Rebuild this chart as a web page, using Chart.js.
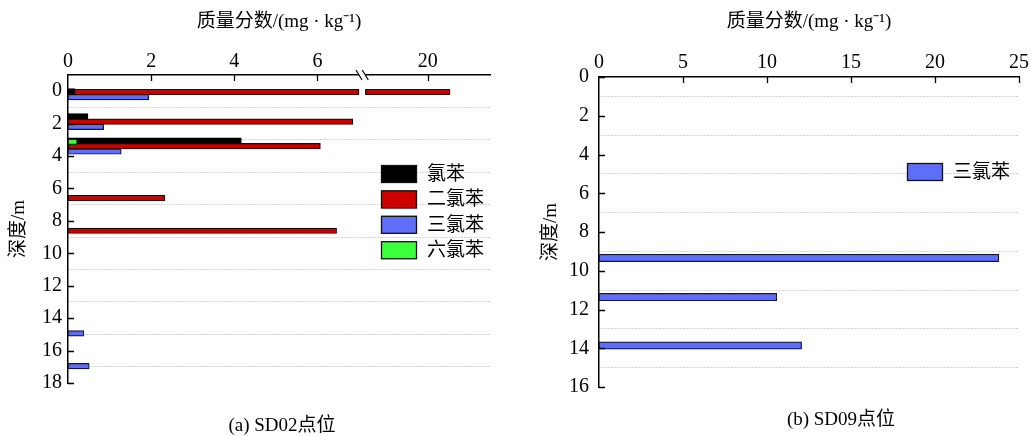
<!DOCTYPE html>
<html>
<head>
<meta charset="utf-8">
<script src="https://cdn.jsdelivr.net/npm/chart.js@4.4.1/dist/chart.umd.min.js"></script>
<style>
  html, body { margin: 0; padding: 0; background: #fff; }
  #wrap { position: relative; width: 1032px; height: 436px; }
  .pane { position: absolute; top: 0; height: 436px; }
  #paneL { left: 0; width: 520px; }
  #paneR { left: 520px; width: 512px; }
</style>
</head>
<body>
<div id="wrap">
  <div class="pane" id="paneL"><canvas id="chartL" width="520" height="436"></canvas></div>
  <div class="pane" id="paneR"><canvas id="chartR" width="512" height="436"></canvas></div>
</div>
<script>
// ── Données ──────────────────────────────────────────────────
const X_TITLE = '质量分数/(mg · kg⁻¹)';
const Y_TITLE = '深度/m';
const CAPTION_L = '(a) SD02点位';
const CAPTION_R = '(b) SD09点位';

const SERIES_NAMES = ['氯苯', '二氯苯', '三氯苯', '六氯苯'];

// SD02 : profondeur (m) et teneur (mg/kg) par composé
const SD02_CB_DEPTH   = [0.0, 1.55, 3.05];
const SD02_CB_VALUE   = [0.17, 0.48, 4.17];
const SD02_DCB_DEPTH  = [0.05, 1.88, 3.39, 6.59, 8.61];
const SD02_DCB_VALUE  = [21.8, 6.85, 6.07, 2.33, 6.46];
const SD02_TCB_DEPTH  = [0.37, 2.2, 3.72, 14.94, 16.96];
const SD02_TCB_VALUE  = [1.94, 0.86, 1.28, 0.38, 0.51];
const SD02_HCB_DEPTH  = [3.13];
const SD02_HCB_VALUE  = [0.22];

// SD09 : trichlorobenzène seulement
const SD09_TCB_DEPTH  = [9.34, 11.36, 13.86];
const SD09_TCB_VALUE  = [23.8, 10.58, 12.06];

// axes
const SD02_X_TICKS = [0, 2, 4, 6, 20];
const SD02_BREAK   = [7, 15];      // coupure de l'axe
const SD02_X_MAX   = 25;
const SD09_X_TICKS = [0, 5, 10, 15, 20, 25];

// ── Styles ───────────────────────────────────────────────────
const FONT = "'Liberation Serif', 'Times New Roman', 'Noto Sans CJK SC', serif";
const COLORS = ['#000000', '#cc0000', '#5f6ef8', '#3cff3c'];
const EDGE   = ['#000000', '#2a0505', '#141440', '#0d300d'];

// axe brisé : 0..7 à l'échelle 1, puis 15..25 compressé
const SEG2_K = 0.3, GAP = 0.15;
function toAxis(v) {
  return v <= SD02_BREAK[0] ? v : SD02_BREAK[0] + GAP + (v - SD02_BREAK[1]) * SEG2_K;
}

function barSet(i, depths, values, map, extra) {
  return Object.assign({
    label: SERIES_NAMES[i],
    data: depths.map((d, k) => ({ y: d, x: map(values[k]) })),
    backgroundColor: COLORS[i],
    borderColor: EDGE[i],
  }, extra || {});
}

// ── Plugins ──────────────────────────────────────────────────
const innerTicks = {
  id: 'innerTicks',
  afterDraw(chart) {
    const { ctx, chartArea: a, scales: { x, y } } = chart;
    ctx.save();
    ctx.strokeStyle = '#000'; ctx.lineWidth = 1.3;
    ctx.beginPath();
    x.ticks.forEach(t => {
      const px = Math.round(x.getPixelForValue(t.value)) + 0.5;
      if (px < a.left + 2) return;
      ctx.moveTo(px, a.top); ctx.lineTo(px, a.top + 6);
    });
    y.ticks.forEach(t => {
      if (t.value < 0 || t.value % 2 !== 0) return;
      const py = Math.round(y.getPixelForValue(t.value)) + 0.5;
      ctx.moveTo(a.left, py); ctx.lineTo(a.left + 6, py);
    });
    ctx.stroke();
    ctx.restore();
  }
};

const boxLegend = {
  id: 'boxLegend',
  afterDraw(chart, args, o) {
    const { ctx } = chart;
    ctx.save();
    ctx.font = `19px ${FONT}`;
    ctx.textBaseline = 'middle';
    chart.data.datasets.forEach((ds, i) => {
      const top = o.y + i * o.row;
      ctx.fillStyle = ds.backgroundColor;
      ctx.fillRect(o.x, top, o.w, o.h);
      ctx.strokeStyle = '#111'; ctx.lineWidth = 1.3;
      ctx.strokeRect(o.x + 0.5, top + 0.5, o.w - 1, o.h - 1);
      ctx.fillStyle = '#000';
      ctx.fillText(ds.label, o.x + o.w + 10, top + o.h / 2 + 1);
    });
    ctx.restore();
  }
};

const caption = {
  id: 'caption',
  afterDraw(chart, args, o) {
    const { ctx } = chart;
    ctx.save();
    ctx.font = `19px ${FONT}`;
    ctx.fillStyle = '#000';
    ctx.textAlign = 'center';
    ctx.textBaseline = 'middle';
    ctx.fillText(o.text, o.x, o.y);
    ctx.restore();
  }
};

const axisBreak = {
  id: 'axisBreak',
  afterDatasetsDraw(chart) {
    const { ctx, scales: { x } } = chart;
    const x0 = x.getPixelForValue(toAxis(SD02_BREAK[0]));
    const x1 = x.getPixelForValue(toAxis(SD02_BREAK[1]));
    ctx.save();
    chart.data.datasets.forEach((ds, di) => {
      chart.getDatasetMeta(di).data.forEach((bar, k) => {
        if (ds.data[k].x <= SD02_BREAK[0]) return;
        const { y, height } = bar.getProps(['y', 'height'], true);
        ctx.fillStyle = '#fff';
        ctx.fillRect(x0, y - height / 2 - 1, x1 - x0, height + 2);
        ctx.strokeStyle = ds.borderColor; ctx.lineWidth = 1.2;
        ctx.beginPath();
        ctx.moveTo(x0 - 0.5, y - height / 2); ctx.lineTo(x0 - 0.5, y + height / 2);
        ctx.moveTo(x1 + 0.5, y - height / 2); ctx.lineTo(x1 + 0.5, y + height / 2);
        ctx.stroke();
      });
    });
    ctx.restore();
  },
  afterDraw(chart) {
    const { ctx, chartArea: a, scales: { x } } = chart;
    const x0 = x.getPixelForValue(toAxis(SD02_BREAK[0]));
    const x1 = x.getPixelForValue(toAxis(SD02_BREAK[1]));
    ctx.save();
    ctx.fillStyle = '#fff';
    ctx.fillRect(x0, a.top - 2, x1 - x0, 4);
    ctx.strokeStyle = '#000'; ctx.lineWidth = 1.2;
    ctx.beginPath();
    [x0, x1].forEach(px => { ctx.moveTo(px - 3, a.top - 5); ctx.lineTo(px + 3, a.top + 5); });
    ctx.stroke();
    ctx.restore();
  }
};

// ── Options communes ─────────────────────────────────────────
function baseOptions(cfg) {
  return {
    indexAxis: 'y',
    responsive: false,
    animation: false,
    events: [],
    layout: { padding: { left: 0, top: 0, right: cfg.padRight, bottom: cfg.padBottom } },
    datasets: { bar: { grouped: false, barThickness: cfg.barH, borderWidth: 1.2, borderSkipped: false } },
    plugins: {
      legend: { display: false },
      tooltip: { enabled: false },
      boxLegend: cfg.legend,
      caption: cfg.caption,
    },
    scales: {
      x: {
        type: 'linear', position: 'top', min: 0, max: cfg.xMax, offset: false,
        afterBuildTicks: s => { s.ticks = cfg.xTicks.map(v => ({ value: cfg.map(v) })); },
        afterFit: s => { s.height = cfg.top; },
        ticks: { autoSkip: false, maxRotation: 0, padding: cfg.xPad, color: '#000',
                 font: { family: FONT, size: 20 },
                 callback: (v, i) => cfg.xTicks[i] },
        grid: { display: false, drawTicks: false, offset: false },
        border: { color: '#000', width: 1.5 },
        title: { display: true, text: X_TITLE, color: '#000',
                 font: { family: FONT, size: 19 }, padding: { top: 11, bottom: 0 } },
      },
      y: {
        type: 'linear', reverse: true, min: cfg.yMin, max: cfg.yMax, offset: false,
        afterFit: s => { s.width = cfg.left; },
        ticks: { stepSize: 1, autoSkip: false, padding: cfg.yPad, color: '#000',
                 font: { family: FONT, size: 20 },
                 callback: v => (v >= 0 && v % 2 === 0) ? v : '' },
        grid: { drawTicks: false, lineWidth: 1, offset: false,
                color: c => (c.tick && c.tick.value > 0 && c.tick.value % 2 !== 0) ? '#a8a8a8' : 'rgba(0,0,0,0)' },
        border: { color: '#000', width: 1.5, dash: [1, 2] },
        title: { display: true, text: Y_TITLE, color: '#000',
                 font: { family: FONT, size: 19 }, padding: { top: cfg.yTitlePad, bottom: 0 } },
      }
    }
  };
}

// ── SD02 ─────────────────────────────────────────────────────
new Chart(document.getElementById('chartL'), {
  type: 'bar',
  data: {
    datasets: [
      barSet(0, SD02_CB_DEPTH,  SD02_CB_VALUE,  toAxis),
      barSet(1, SD02_DCB_DEPTH, SD02_DCB_VALUE, toAxis),
      barSet(2, SD02_TCB_DEPTH, SD02_TCB_VALUE, toAxis),
      barSet(3, SD02_HCB_DEPTH, SD02_HCB_VALUE, toAxis, { order: -1 }),
    ]
  },
  options: baseOptions({
    padRight: 30, padBottom: 53, left: 68, top: 75, barH: 5.5,
    xMax: toAxis(SD02_X_MAX), xTicks: SD02_X_TICKS, map: toAxis, xPad: 1,
    yMin: -1, yMax: 18, yPad: 6, yTitlePad: 8,
    legend: { x: 381, y: 165, row: 25.4, w: 36, h: 18 },
    caption: { text: CAPTION_L, x: 282, y: 426 },
  }),
  plugins: [innerTicks, axisBreak, boxLegend, caption]
});

// ── SD09 ─────────────────────────────────────────────────────
new Chart(document.getElementById('chartR'), {
  type: 'bar',
  data: {
    datasets: [ barSet(2, SD09_TCB_DEPTH, SD09_TCB_VALUE, v => v) ]
  },
  options: baseOptions({
    padRight: 13, padBottom: 49, left: 79, top: 77, barH: 7.3,
    xMax: 25, xTicks: SD09_X_TICKS, map: v => v, xPad: 2,
    yMin: 0, yMax: 16, yPad: 10, yTitlePad: 20,
    legend: { x: 387, y: 163, row: 25.4, w: 36, h: 18 },
    caption: { text: CAPTION_R, x: 321, y: 420 },
  }),
  plugins: [innerTicks, boxLegend, caption]
});
</script>
</body>
</html>
